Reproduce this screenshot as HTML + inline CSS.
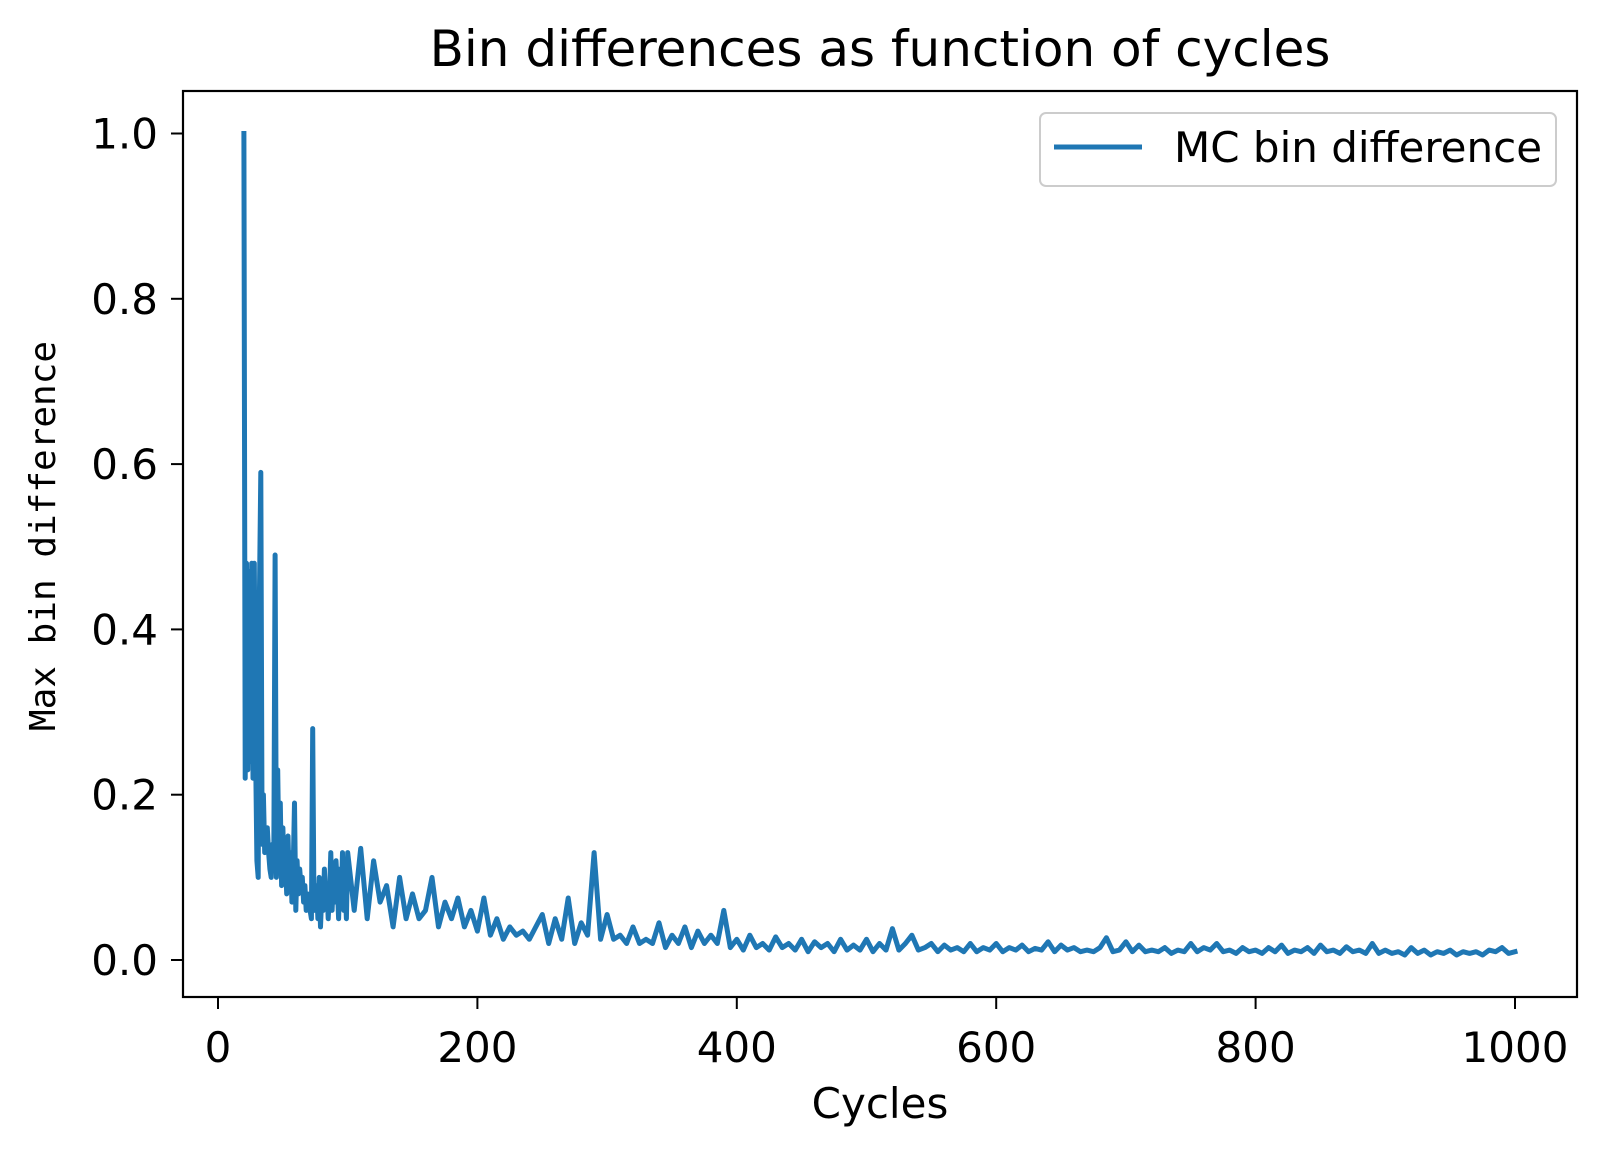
<!DOCTYPE html>
<html><head><meta charset="utf-8"><style>
html,body{margin:0;padding:0;background:#fff;}
svg{display:block;}
text{font-family:"DejaVu Sans","Liberation Sans",sans-serif;fill:#000;}
</style></head><body>
<svg id="chart" width="1610" height="1154" viewBox="0 0 1610 1154">
<text x="880" y="66" font-size="50" text-anchor="middle">Bin differences as function of cycles</text>
<g id="ticks"></g>
<path id="series" fill="none" stroke="#1f77b4" stroke-width="5" stroke-linejoin="round" stroke-linecap="square"></path>
<rect x="183" y="91" width="1394" height="906" fill="none" stroke="#000" stroke-width="2.2"></rect>
<text x="880" y="1118" font-size="42" text-anchor="middle">Cycles</text>
<text transform="translate(55,536) rotate(-90)" font-size="36" text-anchor="middle" style="font-family:'DejaVu Sans Mono','Liberation Mono',monospace">Max bin difference</text>
<g>
<rect x="1040" y="113" width="516" height="73" rx="6" fill="#fff" fill-opacity="0.8" stroke="#ccc" stroke-width="2"></rect>
<line x1="1054" y1="147" x2="1142" y2="147" stroke="#1f77b4" stroke-width="5"></line>
<text x="1174" y="162" font-size="42">MC bin difference</text>
</g>
</svg>
<script>
const earlyValues=[1.0,0.22,0.48,0.23,0.47,0.24,0.48,0.22,0.48,0.25,
0.12,0.10,0.45,0.59,0.14,0.20,0.13,0.15,0.16,0.13,
0.11,0.10,0.14,0.12,0.49,0.10,0.23,0.12,0.19,0.09,
0.16,0.10,0.12,0.08,0.15,0.09,0.13,0.07,0.11,0.19,
0.06,0.12,0.08,0.11,0.09,0.10,0.07,0.09,0.06,0.08,
0.07,0.06,0.05,0.28,0.06,0.07,0.09,0.05,0.10,0.04,
0.08,0.06,0.11,0.07,0.09,0.05,0.08,0.13,0.06,0.10,
0.07,0.12,0.09,0.05,0.11,0.07,0.13,0.06,0.09,0.05];
const lateValues=[0.13,0.06,0.135,0.05,0.12,0.07,0.09,0.04,0.10,0.05,0.08,0.05,0.06,0.10,0.04,0.07,0.05,0.075,0.04,0.06,
0.035,0.075,0.03,0.05,0.025,0.04,0.03,0.035,0.025,0.04,0.055,0.02,0.05,0.025,0.075,0.02,0.045,0.03,0.13,0.025,
0.055,0.025,0.03,0.02,0.04,0.02,0.025,0.02,0.045,0.015,0.03,0.02,0.04,0.015,0.035,0.02,0.03,0.02,0.06,0.015,
0.025,0.012,0.03,0.015,0.02,0.012,0.028,0.015,0.02,0.012,0.025,0.01,0.022,0.015,0.02,0.01,0.025,0.012,0.018,0.012,
0.025,0.01,0.02,0.012,0.038,0.012,0.02,0.03,0.012,0.015,0.02,0.01,0.018,0.012,0.015,0.01,0.02,0.01,0.015,0.012,
0.02,0.01,0.015,0.012,0.018,0.01,0.014,0.012,0.022,0.01,0.018,0.012,0.015,0.01,0.012,0.01,0.015,0.027,0.01,0.012,
0.022,0.01,0.018,0.01,0.012,0.01,0.015,0.008,0.012,0.01,0.02,0.01,0.015,0.012,0.02,0.01,0.012,0.008,0.015,0.01,
0.012,0.008,0.015,0.01,0.018,0.008,0.012,0.01,0.015,0.008,0.018,0.01,0.012,0.008,0.016,0.01,0.012,0.008,0.02,0.008,
0.012,0.008,0.01,0.006,0.015,0.008,0.012,0.006,0.01,0.008,0.012,0.006,0.01,0.008,0.01,0.006,0.012,0.01,0.015,0.008,0.01];
const earlyStart=20, lateStart=100, lateStep=5;
const xTicks=[0,200,400,600,800,1000];
const yTicks=[0.0,0.2,0.4,0.6,0.8,1.0];
const yTickLabels=["0.0","0.2","0.4","0.6","0.8","1.0"];

function sx(v){return 218+v*1.297;}
function sy(v){return 960-v*826.5;}
const NS="http://www.w3.org/2000/svg";
const g=document.getElementById('ticks');
xTicks.forEach(t=>{
  const l=document.createElementNS(NS,'line');
  l.setAttribute('x1',sx(t));l.setAttribute('x2',sx(t));l.setAttribute('y1',997);l.setAttribute('y2',1009);
  l.setAttribute('stroke','#000');l.setAttribute('stroke-width','2');
  
  
  g.appendChild(l);
  const tx=document.createElementNS(NS,'text');
  tx.setAttribute('x',sx(t));tx.setAttribute('y',1062);tx.setAttribute('font-size','42');tx.setAttribute('text-anchor','middle');
  tx.textContent=String(t);
  
  
  g.appendChild(tx);
});
yTicks.forEach((t,i)=>{
  const l=document.createElementNS(NS,'line');
  l.setAttribute('x1',171);l.setAttribute('x2',183);l.setAttribute('y1',sy(t));l.setAttribute('y2',sy(t));
  l.setAttribute('stroke','#000');l.setAttribute('stroke-width','2');
  
  
  g.appendChild(l);
  const tx=document.createElementNS(NS,'text');
  tx.setAttribute('x',158);tx.setAttribute('y',sy(t)+15);tx.setAttribute('font-size','42');tx.setAttribute('text-anchor','end');
  tx.textContent=yTickLabels[i];
  
  
  g.appendChild(tx);
});
const pts=[];
earlyValues.forEach((v,i)=>pts.push([sx(earlyStart+i),sy(v)]));
lateValues.forEach((v,i)=>pts.push([sx(lateStart+i*lateStep),sy(v)]));
document.getElementById('series').setAttribute('d',pts.map((p,i)=>(i?'L':'M')+p[0].toFixed(1)+' '+p[1].toFixed(1)).join(''));
</script>
</body></html>
